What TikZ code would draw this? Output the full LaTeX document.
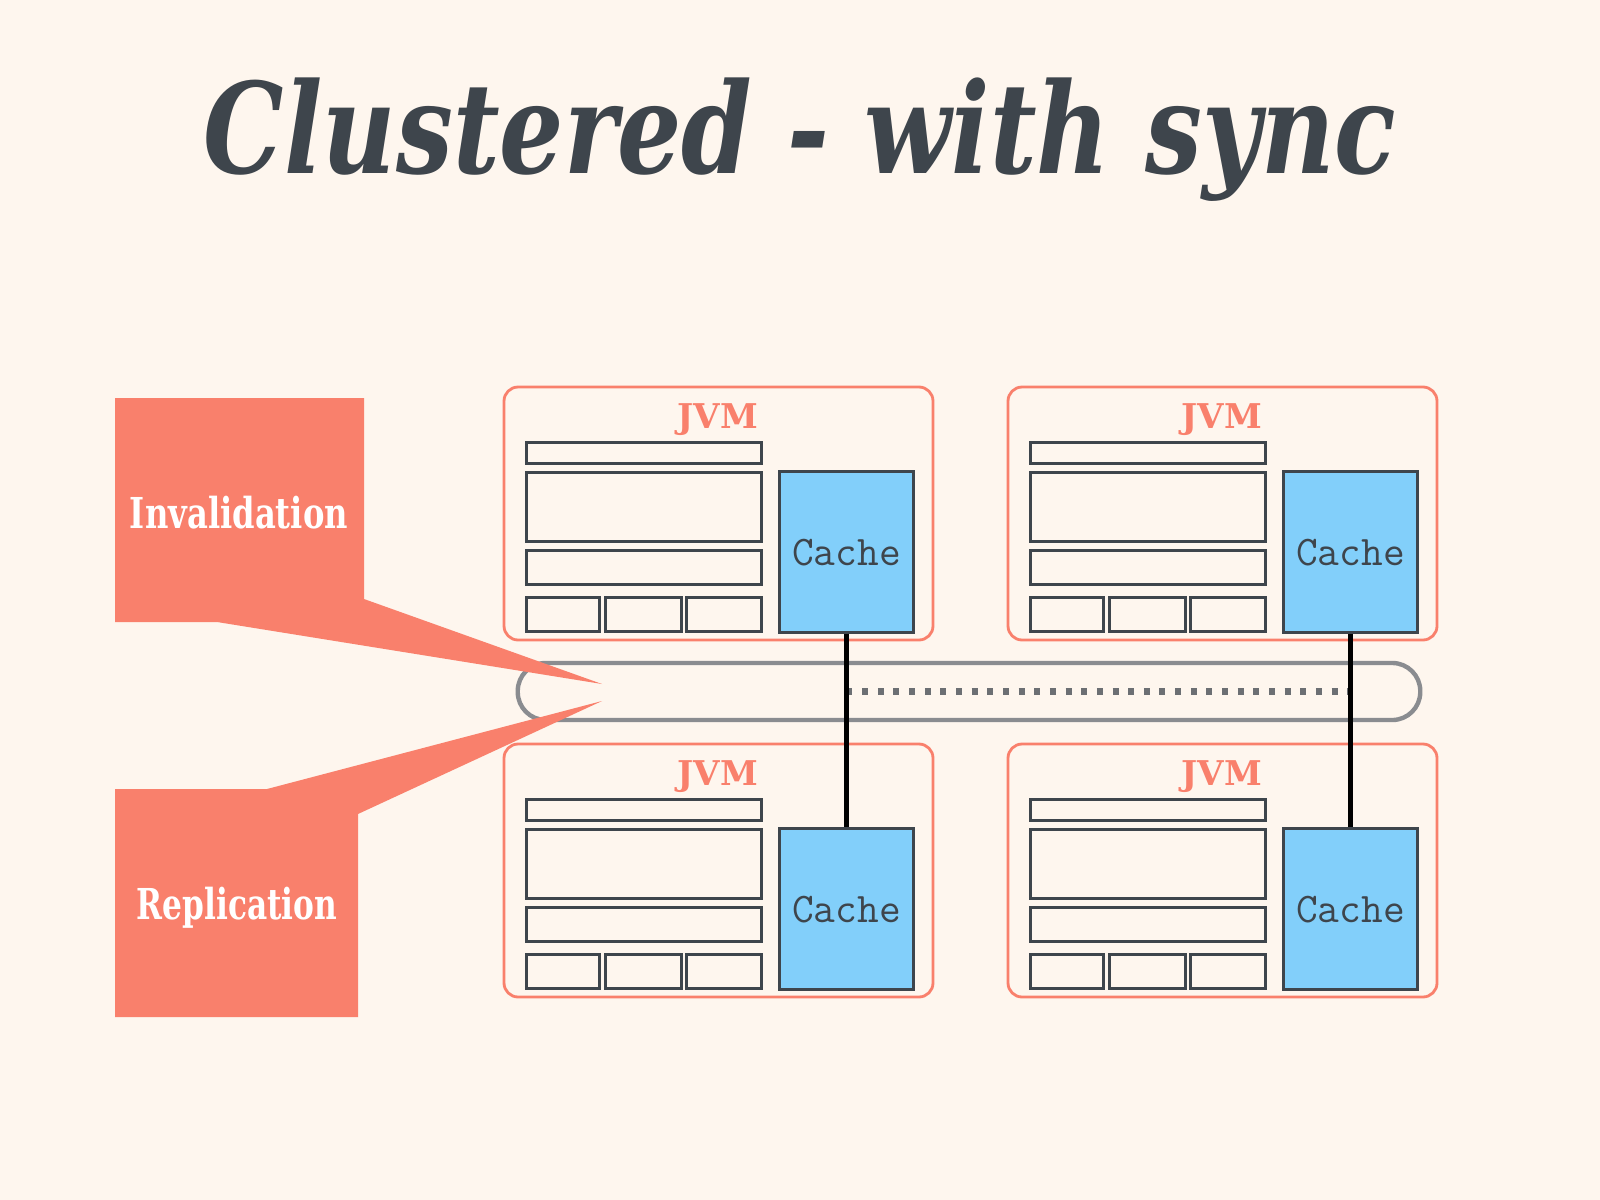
\documentclass[tikz,border=0pt]{standalone}
\usepackage{fontspec}
\setmainfont{DejaVu Serif}
\usetikzlibrary{positioning}
\definecolor{cream}{HTML}{FEF6EE}
\definecolor{salmon}{HTML}{F9806C}
\definecolor{slate}{HTML}{3E454C}
\definecolor{sky}{HTML}{82CFFA}
\definecolor{chalk}{HTML}{8A8C90}
\definecolor{dotgray}{HTML}{6C6F73}
\tikzset{
  jvm/.style={draw=salmon, line width=0.8pt, rounded corners=4pt},
  part/.style={draw=slate, line width=0.85pt},
  cache/.style={draw=slate, line width=0.85pt, fill=sky, inner sep=0pt,
    minimum width=1.33cm, minimum height=1.6cm, text depth=-2pt,
    font=\ttfamily\fontsize{12}{14}\selectfont, text=slate},
  jvmlabel/.style={text=salmon, font=\bfseries\fontsize{9.7}{11}\selectfont},
  callout/.style={text=white, font=\bfseries, anchor=base},
  link/.style={black, line width=1.15pt},
  sync/.style={dotgray, line width=1.8pt, dash pattern=on 1.7pt off 2.75pt}
}
\begin{document}
\begin{tikzpicture}[x=0.01cm, y=-0.01cm]
  \fill[cream] (0,0) rectangle (1600,1200);
  \useasboundingbox (0,0) rectangle (1600,1200);
  % title
  \node[anchor=base, text=slate] (title) at (800,173)
    {\resizebox{339pt}{27.2pt}{\fontsize{36}{40}\selectfont\bfseries\itshape Clustered - with sync}};
  % the four JVMs
  \foreach \n/\ox/\oy in {1/504/387, 2/1008/387, 3/504/744, 4/1008/744} {
    \begin{scope}[shift={(\ox,\oy)}]
      \draw[jvm] (0,0) rectangle (429,253);
      \node[jvmlabel] (j\n) at (214,33) {JVM};
      \draw[part] (22,55) rectangle (257,76);
      \draw[part] (22,85) rectangle (257,154);
      \draw[part] (22,163) rectangle (257,197);
      \draw[part] (22,210) rectangle (95,244);
      \draw[part] (101,210) rectangle (177,244);
      \draw[part] (182,210) rectangle (257,244);
      \node[cache] (c\n) at (342.5,165) {Cache};
    \end{scope}
  }
  % sync channel
  \node[draw=chalk, line width=1.25pt, rounded corners=0.28cm, minimum width=9.02cm,
    minimum height=0.57cm] (ch) at (969,691.5) {};
  \draw[sync] (c1.south |- ch.center) -- (c2.south |- ch.center);
  \draw[link] (c1) -- (c3);
  \draw[link] (c2) -- (c4);
  % callouts
  \fill[salmon] (115,398) -- (364,398) -- (364,599) -- (602,684) -- (217,622) -- (115,622) -- cycle;
  \node[callout] (inv) at (239,528) {\resizebox{62pt}{9.2pt}{Invalidation}};
  \fill[salmon] (115,789) -- (267,789) -- (602,701) -- (358,814) -- (358,1017) -- (115,1017) -- cycle;
  \node[callout] (rep) at (237,919) {\resizebox{57pt}{9.2pt}{Replication}};
\end{tikzpicture}
\end{document}
